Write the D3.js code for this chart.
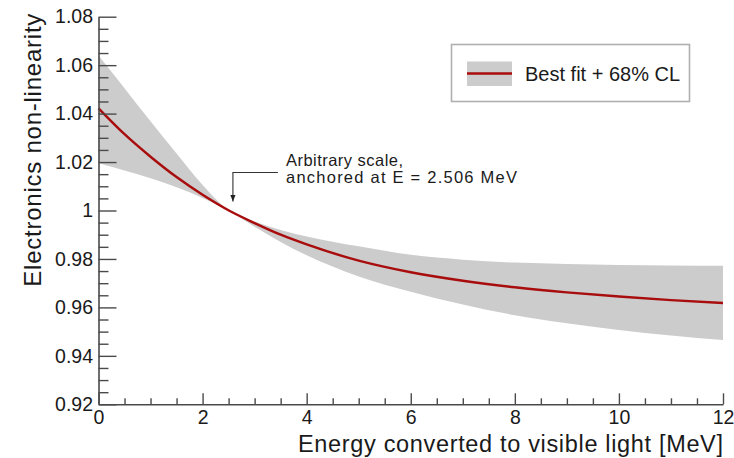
<!DOCTYPE html>
<html>
<head>
<meta charset="utf-8">
<script src="https://cdn.jsdelivr.net/npm/d3@7"></script>
<style>
  body { margin: 0; background: #fff; }
  svg { display: block; }
  text { font-family: "Liberation Sans", Arial, sans-serif; fill: #1a1a1a; }
</style>
</head>
<body>
<svg id="chart" width="734" height="458"></svg>
<script>
// Visible energy (MeV) and the fitted electronics non-linearity with its 68% CL band
const energy    = [0,      0.5,    1,      1.5,    2,      2.506, 3,      3.5,    4,      5,      6,      7,      8,      9,      10,     11,     12];
const bestFit   = [1.0422, 1.0315, 1.0222, 1.0138, 1.0065, 1.0,   0.9948, 0.9900, 0.9860, 0.9793, 0.9745, 0.9710, 0.9683, 0.9662, 0.9645, 0.9630, 0.9618];
const bandUpper = [1.0640, 1.0505, 1.0368, 1.0235, 1.0105, 1.0,   0.9955, 0.9920, 0.9893, 0.9852, 0.9817, 0.9797, 0.9785, 0.9779, 0.9775, 0.9773, 0.9772];
const bandLower = [1.0195, 1.0165, 1.0133, 1.0096, 1.0052, 1.0,   0.9933, 0.9870, 0.9815, 0.9728, 0.9665, 0.9612, 0.9568, 0.9535, 0.9507, 0.9484, 0.9465];

const xMajorTicks = [0, 2, 4, 6, 8, 10, 12];
const xMinorTicks = [0.5, 1, 1.5, 2.5, 3, 3.5, 4.5, 5, 5.5, 6.5, 7, 7.5, 8.5, 9, 9.5, 10.5, 11, 11.5];
const yMajorTicks = [0.92, 0.94, 0.96, 0.98, 1.00, 1.02, 1.04, 1.06, 1.08];
const yTickLabels = ["0.92", "0.94", "0.96", "0.98", "1", "1.02", "1.04", "1.06", "1.08"];
const yMinorTicks = [0.925, 0.93, 0.935, 0.945, 0.95, 0.955, 0.965, 0.97, 0.975, 0.985, 0.99, 0.995,
                     1.005, 1.01, 1.015, 1.025, 1.03, 1.035, 1.045, 1.05, 1.055, 1.065, 1.07, 1.075];

const xTitle = "Energy converted to visible light [MeV]";
const yTitle = "Electronics non-linearity";
const legendLabel = "Best fit + 68% CL";
const noteLines = ["Arbitrary scale,", "anchored at E = 2.506 MeV"];
const anchorEnergy = 2.506;

const points = energy.map((e, i) => ({ e, c: bestFit[i], lo: bandLower[i], hi: bandUpper[i] }));

const W = 734, H = 458;
const margin = { left: 98.5, right: 11, top: 16.7, bottom: 53.7 };
const svg = d3.select("#chart");

const x = d3.scaleLinear().domain([0, 12]).range([margin.left, W - margin.right]);
const y = d3.scaleLinear().domain([0.92, 1.08]).range([H - margin.bottom, margin.top]);

const axisColor = "#4a4a4a";
const bandColor = "#cccccc";
const lineColor = "#a80c0c";

// Widen a text's letter spacing up to a given run length (keeps glyph height)
function spread(sel, width) {
  const w = sel.node().getComputedTextLength();
  if (w < width) sel.attr("textLength", width).attr("lengthAdjust", "spacing");
  return sel;
}

// 68% CL band
svg.append("path")
  .datum(points)
  .attr("fill", bandColor)
  .attr("d", d3.area()
    .x(d => x(d.e))
    .y0(d => y(d.lo))
    .y1(d => y(d.hi))
    .curve(d3.curveMonotoneX));

// Best fit curve
svg.append("path")
  .datum(points)
  .attr("fill", "none")
  .attr("stroke", lineColor)
  .attr("stroke-width", 2.4)
  .attr("d", d3.line()
    .x(d => x(d.e))
    .y(d => y(d.c))
    .curve(d3.curveMonotoneX));

// Axes: ticks point into the plot
const yAxisG = svg.append("g").attr("transform", `translate(${margin.left},0)`);
yAxisG.call(d3.axisLeft(y).tickValues(yMinorTicks).tickSize(-10).tickSizeOuter(0).tickFormat(""));
yAxisG.call(g => g.select(".domain").remove());
svg.append("g").attr("transform", `translate(${margin.left},0)`)
  .call(d3.axisLeft(y).tickValues(yMajorTicks).tickSize(-18).tickSizeOuter(0).tickPadding(5.5)
    .tickFormat((d, i) => yTickLabels[i]));

const xAxisG = svg.append("g").attr("transform", `translate(0,${H - margin.bottom})`);
xAxisG.call(d3.axisBottom(x).tickValues(xMinorTicks).tickSize(-6).tickSizeOuter(0).tickFormat(""));
xAxisG.call(g => g.select(".domain").remove());
svg.append("g").attr("transform", `translate(0,${H - margin.bottom})`)
  .call(d3.axisBottom(x).tickValues(xMajorTicks).tickSize(-11).tickSizeOuter(0).tickPadding(6));

svg.selectAll(".tick line").attr("stroke", axisColor).attr("stroke-width", 1.4);
svg.selectAll(".domain").attr("stroke", axisColor).attr("stroke-width", 1.6);
svg.selectAll(".tick text").attr("font-size", 19.5).attr("font-family", "Liberation Sans, Arial, sans-serif").attr("fill", "#222");

// Axis titles, aligned to the far end of each axis
svg.append("text")
  .attr("x", W - margin.right)
  .attr("y", 452)
  .attr("text-anchor", "end")
  .attr("font-size", 23.5)
  .text(xTitle)
  .call(spread, 425);

svg.append("text")
  .attr("transform", `translate(41,${margin.top - 3}) rotate(-90)`)
  .attr("text-anchor", "end")
  .attr("font-size", 24)
  .text(yTitle)
  .call(spread, 273);

// Legend
const legend = svg.append("g");
legend.append("rect")
  .attr("x", 451.5).attr("y", 44.5).attr("width", 238).attr("height", 57)
  .attr("fill", "#fff").attr("stroke", "#b0b0b0").attr("stroke-width", 1.6);
legend.append("rect")
  .attr("x", 467).attr("y", 61.5).attr("width", 45).attr("height", 24.5)
  .attr("fill", bandColor);
legend.append("line")
  .attr("x1", 467).attr("x2", 512).attr("y1", 73.5).attr("y2", 73.5)
  .attr("stroke", lineColor).attr("stroke-width", 2.4);
legend.append("text")
  .attr("x", 525).attr("y", 80.5)
  .attr("font-size", 20)
  .text(legendLabel)
  .call(spread, 154);

// Annotation pointing at the anchor energy
svg.append("defs").append("marker")
  .attr("id", "tip").attr("viewBox", "0 0 10 10")
  .attr("refX", 10).attr("refY", 5)
  .attr("markerWidth", 6).attr("markerHeight", 6)
  .attr("orient", "auto")
  .append("path").attr("d", "M0,1 L10,5 L0,9 Z").attr("fill", "#222");

const tipX = x(anchorEnergy) + 4;
const tipY = y(1.0) - 9;
svg.append("path")
  .attr("d", `M${tipX + 45},${tipY - 29} H${tipX} V${tipY}`)
  .attr("fill", "none")
  .attr("stroke", "#333")
  .attr("stroke-width", 1.1)
  .attr("marker-end", "url(#tip)");

const noteWidths = [117, 231];
noteLines.forEach((line, i) => {
  svg.append("text")
    .attr("x", 286).attr("y", 166 + i * 17)
    .attr("font-size", 16.5)
    .text(line)
    .call(spread, noteWidths[i]);
});
</script>
</body>
</html>
